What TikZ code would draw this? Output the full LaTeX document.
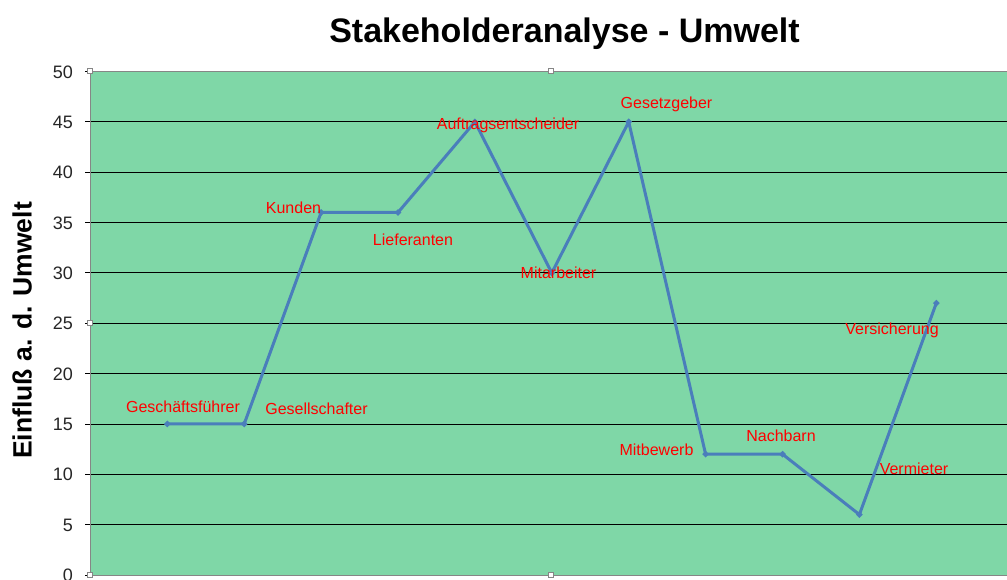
\documentclass[tikz,border=0pt]{standalone}
\usepackage{fontspec}
\setmainfont{Liberation Sans}
\usetikzlibrary{shapes.geometric}
\definecolor{plotbg}{RGB}{127,215,167}
\definecolor{serie}{RGB}{74,126,187}
\definecolor{frame}{RGB}{134,134,134}
\definecolor{lbl}{RGB}{255,0,0}
\tikzset{
  lab/.style={text=lbl, inner sep=0pt, anchor=base, font=\fontsize{16}{19}\selectfont},
  ticklab/.style={inner sep=0pt, anchor=base east, font=\fontsize{18}{21}\selectfont, text=black!85},
  grid/.style={black, line width=0.9pt},
  handle/.style={draw=frame, fill=white, line width=0.6pt, minimum size=5pt, inner sep=0pt},
  mk/.style={diamond, fill=serie, minimum size=7pt, inner sep=0pt},
  serieline/.style={serie, line width=3pt, line join=round}
}
\begin{document}
\begin{tikzpicture}[x=1pt,y=-1pt]
\useasboundingbox (0,0) rectangle (1007,579);
\fill[white] (0,0) rectangle (1007,579);
% plot area
\fill[plotbg] (90,71) rectangle (1007,575);
% grid lines and ticks
\foreach \v in {5,10,...,45} {
  \draw[grid] (85,{575-10.07*\v}) -- (1007,{575-10.07*\v});
}
\foreach \v in {0,50} {
  \draw[black, line width=0.8pt] (85,{575-10.07*\v}) -- (90,{575-10.07*\v});
}
\foreach \v in {0,5,...,50} {
  \node[ticklab] (t\v) at (73,{575-10.07*\v+6.5}) {\v};
}
% frame
\draw[frame, line width=1pt] (1007,71) -- (90,71) -- (90,575) -- (1007,575);
% handles
\node[handle] (h1) at (90,71) {};
\node[handle] (h2) at (551,71) {};
\node[handle] (h3) at (90,323) {};
\node[handle] (h4) at (90,575) {};
\node[handle] (h5) at (551,575) {};
% data points
\coordinate (p1) at (167.3,{575-10.07*15});
\coordinate (p2) at (244.2,{575-10.07*15});
\coordinate (p3) at (321.1,{575-10.07*36});
\coordinate (p4) at (398.0,{575-10.07*36});
\coordinate (p5) at (474.9,{575-10.07*45});
\coordinate (p6) at (551.8,{575-10.07*30});
\coordinate (p7) at (628.7,{575-10.07*45});
\coordinate (p8) at (705.6,{575-10.07*12});
\coordinate (p9) at (782.5,{575-10.07*12});
\coordinate (p10) at (859.4,{575-10.07*6});
\coordinate (p11) at (936.3,{575-10.07*27});
\draw[serieline] (p1) -- (p2) -- (p3) -- (p4) -- (p5) -- (p6) -- (p7) -- (p8) -- (p9) -- (p10) -- (p11);
\foreach \i in {1,...,11} { \node[mk] (m\i) at (p\i) {}; }
% labels
\node[lab] (l1) at (183,412) {Geschäftsführer};
\node[lab] (l2) at (316.5,414) {Gesellschafter};
\node[lab] (l3) at (293.5,213) {Kunden};
\node[lab] (l4) at (413,245) {Lieferanten};
\node[lab] (l5) at (508,129) {Auftragsentscheider};
\node[lab] (l6) at (558.5,278) {Mitarbeiter};
\node[lab] (l7) at (666.5,108) {Gesetzgeber};
\node[lab] (l8) at (656.5,455) {Mitbewerb};
\node[lab] (l9) at (781,441) {Nachbarn};
\node[lab] (l10) at (914,474) {Vermieter};
\node[lab] (l11) at (892,334) {Versicherung};
% title and axis label
\node[inner sep=0pt, anchor=base, font=\fontsize{34}{39}\selectfont\bfseries] (title) at (564.5,42) {Stakeholderanalyse - Umwelt};
\node[inner sep=0pt, anchor=base, rotate=90, font=\fontsize{26.5}{30}\selectfont\bfseries] (ylab) at (31.5,330.5) {Einfluß a. d. Umwelt};
\end{tikzpicture}
\end{document}
